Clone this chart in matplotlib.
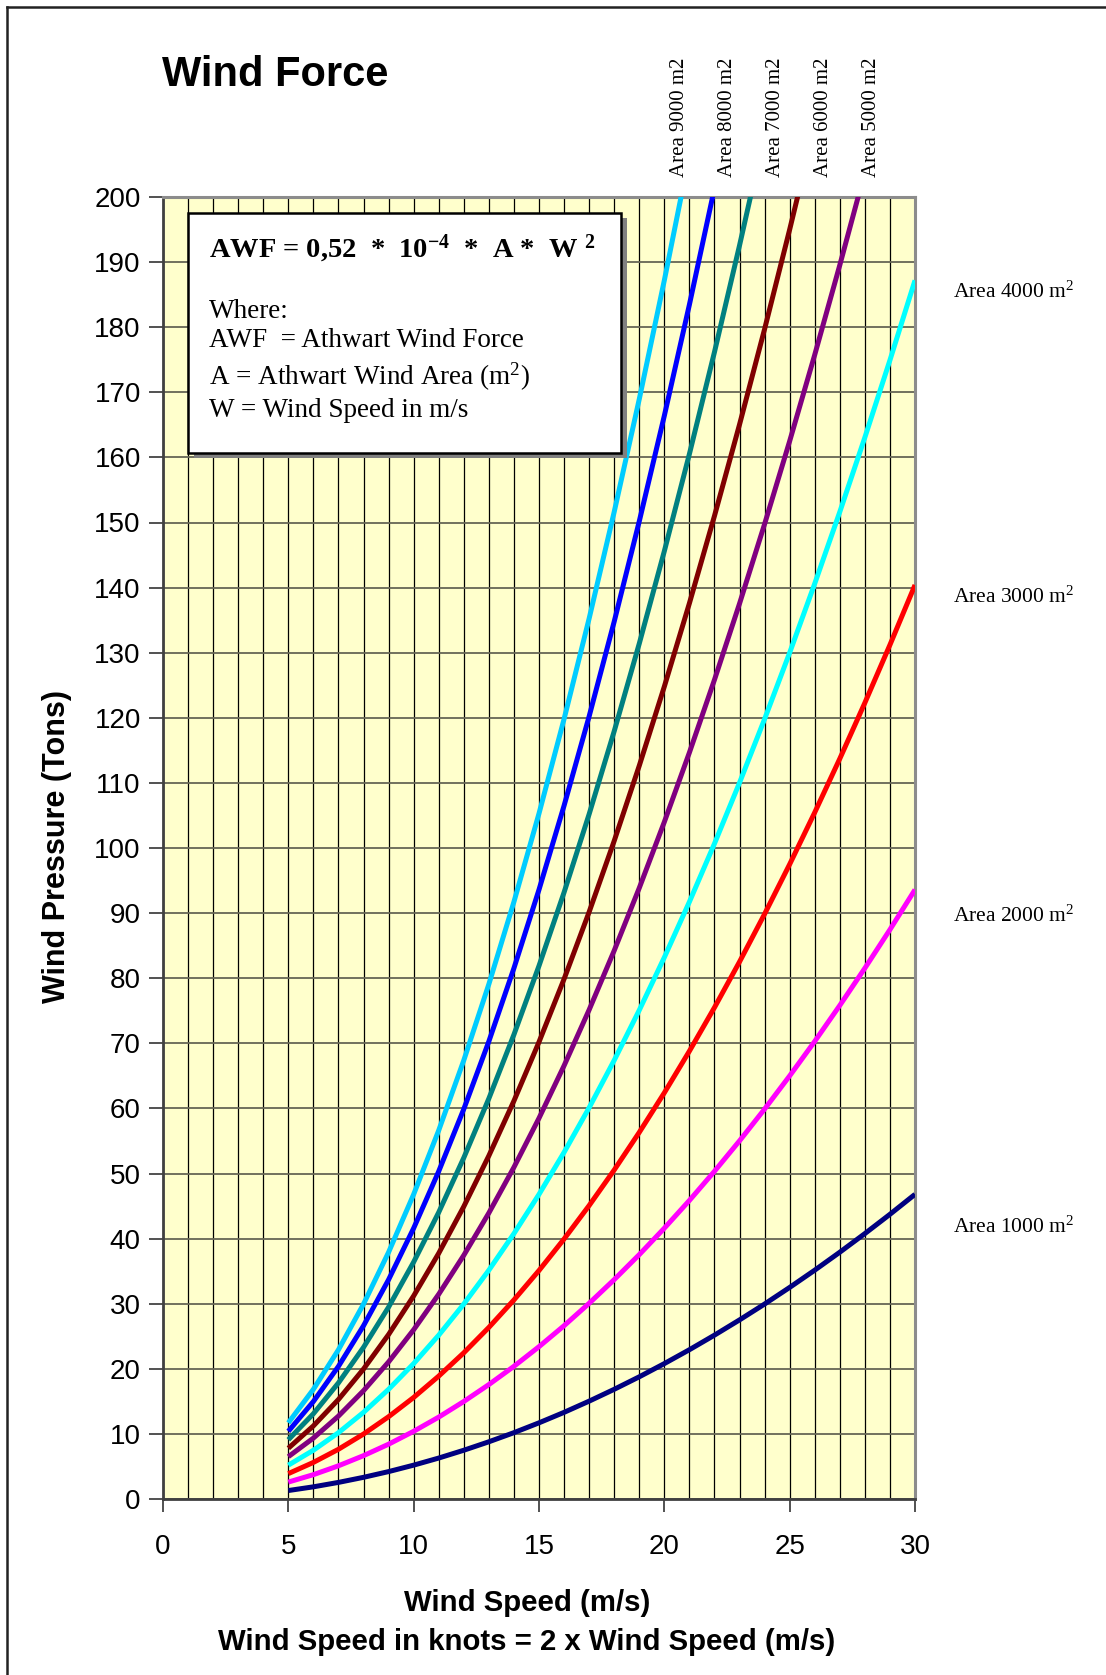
import matplotlib
matplotlib.use("Agg")
import matplotlib.pyplot as plt
from matplotlib.ticker import MultipleLocator
from matplotlib.patches import Rectangle
from matplotlib.lines import Line2D

plt.rcParams['mathtext.default'] = 'regular'

# ---------------- data ----------------
wind_speed = [5, 6, 7, 8, 9, 10, 11, 12, 13, 14, 15, 16, 17, 18, 19, 20,
              21, 22, 23, 24, 25, 26, 27, 28, 29, 30]

area_1000 = [1.3, 1.87, 2.55, 3.33, 4.21, 5.2, 6.29, 7.49, 8.79, 10.19, 11.7, 13.31,
             15.03, 16.85, 18.77, 20.8, 22.93, 25.17, 27.51, 29.95, 32.5, 35.15,
             37.91, 40.77, 43.73, 46.8]
area_2000 = [2.6, 3.74, 5.1, 6.66, 8.42, 10.4, 12.58, 14.98, 17.58, 20.38, 23.4, 26.62,
             30.06, 33.7, 37.54, 41.6, 45.86, 50.34, 55.02, 59.9, 65.0, 70.3,
             75.82, 81.54, 87.46, 93.6]
area_3000 = [3.9, 5.62, 7.64, 9.98, 12.64, 15.6, 18.88, 22.46, 26.36, 30.58, 35.1, 39.94,
             45.08, 50.54, 56.32, 62.4, 68.8, 75.5, 82.52, 89.86, 97.5, 105.46,
             113.72, 122.3, 131.2, 140.4]
area_4000 = [5.2, 7.49, 10.19, 13.31, 16.85, 20.8, 25.17, 29.95, 35.15, 40.77, 46.8, 53.25,
             60.11, 67.39, 75.09, 83.2, 91.73, 100.67, 110.03, 119.81, 130.0, 140.61,
             151.63, 163.07, 174.93, 187.2]
area_5000 = [6.5, 9.36, 12.74, 16.64, 21.06, 26.0, 31.46, 37.44, 43.94, 50.96, 58.5, 66.56,
             75.14, 84.24, 93.86, 104.0, 114.66, 125.84, 137.54, 149.76, 162.5, 175.76,
             189.54, 203.84, 218.66, 234.0]
area_6000 = [7.8, 11.23, 15.29, 19.97, 25.27, 31.2, 37.75, 44.93, 52.73, 61.15, 70.2, 79.87,
             90.17, 101.09, 112.64, 124.8, 137.59, 151.01, 165.05, 179.71, 195.0, 210.91]
area_7000 = [9.1, 13.1, 17.84, 23.3, 29.48, 36.4, 44.04, 52.42, 61.52, 71.34, 81.9, 93.18,
             105.2, 117.94, 131.4, 145.6, 160.52, 176.18, 192.56, 209.66]
area_8000 = [10.4, 14.98, 20.38, 26.62, 33.7, 41.6, 50.34, 59.9, 70.3, 81.54, 93.6, 106.5,
             120.22, 134.78, 150.18, 166.4, 183.46, 201.34]
area_9000 = [11.7, 16.85, 22.93, 29.95, 37.91, 46.8, 56.63, 67.39, 79.09, 91.73, 105.3,
             119.81, 135.25, 151.63, 168.95, 187.2, 206.39]

series = [
    ("Area 1000", area_1000, "#000080"),
    ("Area 2000", area_2000, "#FF00FF"),
    ("Area 3000", area_3000, "#FF0000"),
    ("Area 4000", area_4000, "#00FFFF"),
    ("Area 5000", area_5000, "#800080"),
    ("Area 6000", area_6000, "#800000"),
    ("Area 7000", area_7000, "#008080"),
    ("Area 8000", area_8000, "#0000FF"),
    ("Area 9000", area_9000, "#00CCFF"),
]

right_labels = ["Area 4000 m$^2$", "Area 3000 m$^2$", "Area 2000 m$^2$", "Area 1000 m$^2$"]
top_labels = ["Area 9000 m2", "Area 8000 m2", "Area 7000 m2", "Area 6000 m2", "Area 5000 m2"]

# ---------------- figure ----------------
W, H = 1106, 1675
fig = plt.figure(figsize=(W / 100, H / 100), dpi=100)
fig.patch.set_facecolor("white")

def fx(px):
    return px / W

def fy(py):
    return 1 - py / H

ax_l, ax_r, ax_t, ax_b = 163, 915, 197, 1499
ax = fig.add_axes([fx(ax_l), fy(ax_b), (ax_r - ax_l) / W, (ax_b - ax_t) / H])
ax.set_facecolor("#FFFFCC")

for name, vals, col in series:
    ax.plot(wind_speed[:len(vals)], vals, color=col, lw=3.6, solid_capstyle='butt',
            solid_joinstyle='round', zorder=3)

ax.set_xlim(0, 30)
ax.set_ylim(0, 200)
ax.set_xticks(range(0, 31, 5))
ax.xaxis.set_minor_locator(MultipleLocator(1))
ax.set_yticks(range(0, 201, 10))

ax.grid(which='both', axis='x', color='black', lw=0.9, zorder=1)
ax.grid(which='major', axis='y', color='#666655', lw=1.3, zorder=1)
ax.set_axisbelow(True)

ax.tick_params(axis='x', which='major', direction='out', length=9, width=1.2,
               color='#333333', pad=16)
ax.tick_params(axis='x', which='minor', length=0)
ax.tick_params(axis='y', which='major', direction='out', length=10, width=1.2,
               color='#333333', pad=6)
for lab in ax.get_xticklabels() + ax.get_yticklabels():
    lab.set_fontfamily(['Liberation Sans', 'DejaVu Sans'])
    lab.set_fontsize(20)

for s in ['top', 'right']:
    ax.spines[s].set_color('#8C8C8C')
    ax.spines[s].set_linewidth(2.2)
for s in ['left', 'bottom']:
    ax.spines[s].set_color('#404040')
    ax.spines[s].set_linewidth(2.0)

# ---------------- texts ----------------
sans = ['Liberation Sans', 'DejaVu Sans']
serif = ['Liberation Serif', 'DejaVu Serif']

fig.text(fx(162), fy(86), "Wind Force", family=sans,
         fontweight='bold', fontsize=30, ha='left', va='baseline')

fig.text(fx(57), fy(847), "Wind Pressure (Tons)", family=sans, fontweight='bold',
         fontsize=22, rotation=90, ha='center', va='center')
fig.text(fx(527), fy(1603), "Wind Speed (m/s)", family=sans, fontweight='bold',
         fontsize=21.2, ha='center', va='center')
fig.text(fx(527), fy(1642), "Wind Speed in knots = 2 x Wind Speed (m/s)", family=sans,
         fontweight='bold', fontsize=21.2, ha='center', va='center')

# right-side labels
right_y = [298, 603, 922, 1233]
for lab, y in zip(right_labels, right_y):
    fig.text(fx(953), fy(y), lab, family=serif, fontsize=15.5, ha='left', va='baseline')

# top rotated labels
top_x = [679, 727, 775, 823, 871]
for lab, x in zip(top_labels, top_x):
    fig.text(fx(x), fy(177), lab, family=serif, fontsize=15, rotation=90,
             ha='center', va='bottom')

# formula box with shadow
bx0, by0, bx1, by1 = 188, 213, 621, 453
shadow = Rectangle((fx(bx0 + 6), fy(by1 + 5)), (bx1 - bx0) / W, (by1 - by0) / H,
                   transform=fig.transFigure, facecolor='#808080', edgecolor='none', zorder=5)
box = Rectangle((fx(bx0), fy(by1)), (bx1 - bx0) / W, (by1 - by0) / H,
                transform=fig.transFigure, facecolor='white', edgecolor='black', lw=1.8, zorder=6)
fig.patches.extend([shadow, box])

fig.text(fx(209), fy(257), "AWF = 0,52  *  10$^{-4}$  *  A *  W $^{2}$", family=serif,
         fontweight='bold', fontsize=20.5, ha='left', va='baseline', zorder=7)
fig.text(fx(209), fy(318), "Where:", family=serif, fontsize=19.5, ha='left', va='baseline', zorder=7)
fig.text(fx(209), fy(347), "AWF  = Athwart Wind Force", family=serif, fontsize=19.5,
         ha='left', va='baseline', zorder=7)
fig.text(fx(209), fy(385), "A = Athwart Wind Area (m$^{2}$)", family=serif, fontsize=19.5,
         ha='left', va='baseline', zorder=7)
fig.text(fx(209), fy(417), "W = Wind Speed in m/s", family=serif, fontsize=19.5,
         ha='left', va='baseline', zorder=7)

# outer frame (top and left edges)
fig.add_artist(Line2D([fx(7), fx(1106)], [fy(7), fy(7)], transform=fig.transFigure,
                      color='#222222', lw=1.8))
fig.add_artist(Line2D([fx(7), fx(7)], [fy(7), fy(1675)], transform=fig.transFigure,
                      color='#222222', lw=1.8))

fig.savefig("out.png", dpi=100)
